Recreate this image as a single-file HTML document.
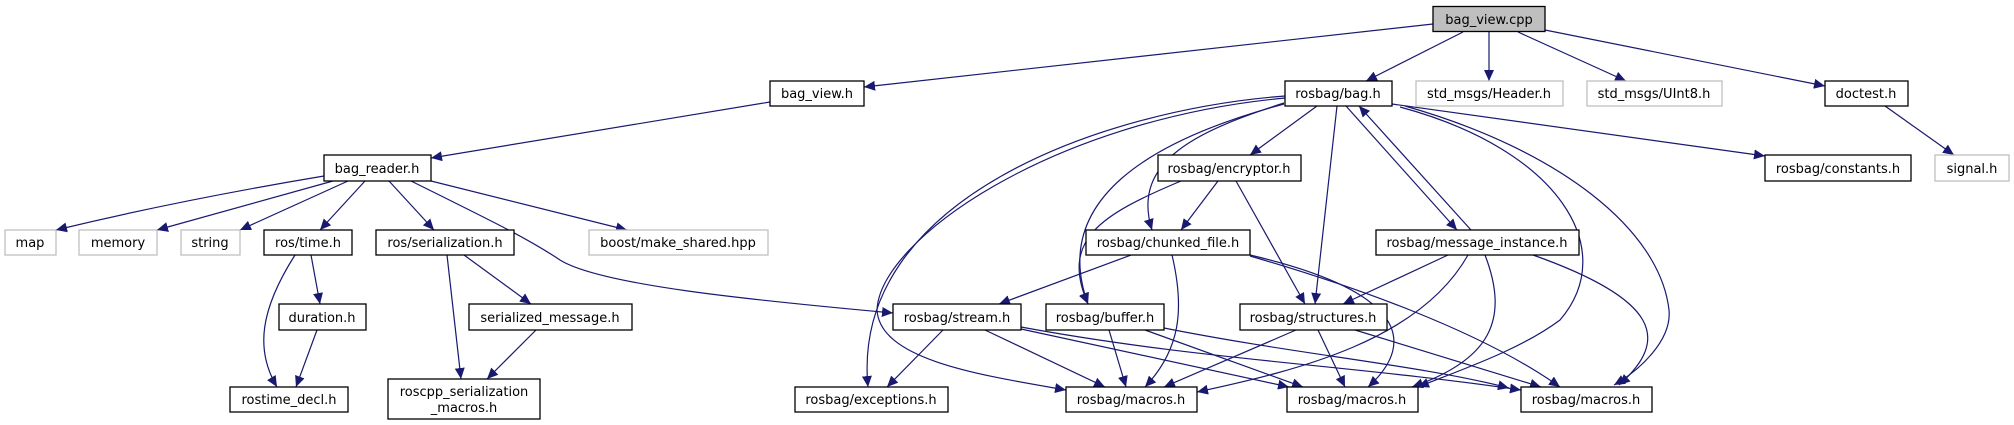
<!DOCTYPE html>
<html><head><meta charset="utf-8"><style>
html,body{margin:0;padding:0;background:#fff;}
svg{display:block;}
text{font-family:"DejaVu Sans","Liberation Sans",sans-serif;font-size:13px;fill:#000;}
</style></head><body>
<svg width="2014" height="425" viewBox="0 0 2014 425" xmlns="http://www.w3.org/2000/svg">
<defs>
<marker id="a" markerUnits="userSpaceOnUse" markerWidth="12" markerHeight="10" refX="11" refY="5" orient="auto">
<path d="M0,0 L11,5 L0,10 Z" fill="#191970"/>
</marker>
</defs>
<g fill="none" stroke="#191970" stroke-width="1.2" marker-end="url(#a)">
<path d="M1433,24 L864,87"/>
<path d="M1463,32 L1366,81"/>
<path d="M1489,32 L1489,81"/>
<path d="M1518,32 L1626,81"/>
<path d="M1545,30 L1825,86"/>
<path d="M1885,106 L1954,155"/>
<path d="M770,102 L431,158"/>
<path d="M324,176 Q180,200 56,230"/>
<path d="M333,181 L157,230"/>
<path d="M348,181 L240,230"/>
<path d="M365,181 L320,230"/>
<path d="M389,181 L434,230"/>
<path d="M411,181 C500,225 530,240 560,260 C600,285 750,300 893,313"/>
<path d="M431,181 L627,230"/>
<path d="M311,255 L320,304"/>
<path d="M295,255 C260,310 255,350 277,387"/>
<path d="M317,330 L296,387"/>
<path d="M464,255 L531,304"/>
<path d="M447,255 L461,379"/>
<path d="M536,330 L487,379"/>
<path d="M1317,106 L1250,155"/>
<path d="M1337,106 L1315,304"/>
<path d="M1284,103 C1200,130 1130,160 1152,230"/>
<path d="M1284,104 C1150,140 1050,200 1088,304"/>
<path d="M1285,96 C1100,110 850,200 868,387"/>
<path d="M1285,98 C1050,120 880,240 877,310 C880,360 980,375 1066,390"/>
<path d="M1392,104 L1765,156"/>
<path d="M1346,106 L1457,230"/>
<path d="M1471,230 L1359,106"/>
<path d="M1400,107 C1560,150 1620,250 1560,320 C1520,350 1460,370 1418,387"/>
<path d="M1405,106 C1560,150 1660,230 1669,310 C1672,340 1640,370 1614,385"/>
<path d="M1218,181 L1181,230"/>
<path d="M1181,181 C1100,215 1060,240 1088,304"/>
<path d="M1236,181 L1305,304"/>
<path d="M1131,255 L999,304"/>
<path d="M1172,255 C1185,310 1180,350 1145,387"/>
<path d="M1250,255 C1400,290 1420,340 1368,387"/>
<path d="M1250,256 C1350,285 1480,330 1560,387"/>
<path d="M1448,255 L1343,304"/>
<path d="M1468,255 C1420,340 1300,370 1197,392"/>
<path d="M1485,255 C1510,320 1490,360 1412,387"/>
<path d="M1533,255 C1660,300 1670,340 1619,385"/>
<path d="M1296,330 L1164,387"/>
<path d="M1318,330 L1345,387"/>
<path d="M1355,330 L1541,387"/>
<path d="M943,330 L887,387"/>
<path d="M985,330 L1105,387"/>
<path d="M1021,329 L1289,387"/>
<path d="M1021,327 C1200,360 1350,365 1521,390"/>
<path d="M1109,330 L1126,387"/>
<path d="M1145,330 L1303,387"/>
<path d="M1164,328 C1300,355 1420,365 1509,388"/>
</g>
<g stroke-width="1.3" text-anchor="middle">
<rect x="1433" y="6.5" width="112" height="25" fill="#bfbfbf" stroke="#000"/><text x="1489" y="24">bag_view.cpp</text>
<rect x="770" y="81" width="94" height="25" fill="#fff" stroke="#000"/><text x="817" y="98">bag_view.h</text>
<rect x="1285" y="81" width="107" height="25" fill="#fff" stroke="#000"/><text x="1338" y="98">rosbag/bag.h</text>
<rect x="1416" y="81" width="147" height="25" fill="#fff" stroke="#bfbfbf"/><text x="1489" y="98">std_msgs/Header.h</text>
<rect x="1587" y="81" width="135" height="25" fill="#fff" stroke="#bfbfbf"/><text x="1654" y="98">std_msgs/UInt8.h</text>
<rect x="1825" y="81" width="83" height="25" fill="#fff" stroke="#000"/><text x="1866" y="98">doctest.h</text>
<rect x="324" y="155" width="107" height="26" fill="#fff" stroke="#000"/><text x="377" y="173">bag_reader.h</text>
<rect x="1158" y="155" width="143" height="26" fill="#fff" stroke="#000"/><text x="1229" y="173">rosbag/encryptor.h</text>
<rect x="1765" y="155" width="146" height="26" fill="#fff" stroke="#000"/><text x="1838" y="173">rosbag/constants.h</text>
<rect x="1935" y="155" width="74" height="26" fill="#fff" stroke="#bfbfbf"/><text x="1972" y="173">signal.h</text>
<rect x="5" y="230" width="51" height="25" fill="#fff" stroke="#bfbfbf"/><text x="30" y="247">map</text>
<rect x="79" y="230" width="78" height="25" fill="#fff" stroke="#bfbfbf"/><text x="118" y="247">memory</text>
<rect x="181" y="230" width="59" height="25" fill="#fff" stroke="#bfbfbf"/><text x="210" y="247">string</text>
<rect x="264" y="230" width="88" height="25" fill="#fff" stroke="#000"/><text x="308" y="247">ros/time.h</text>
<rect x="376" y="230" width="138" height="25" fill="#fff" stroke="#000"/><text x="445" y="247">ros/serialization.h</text>
<rect x="589" y="230" width="179" height="25" fill="#fff" stroke="#bfbfbf"/><text x="678" y="247">boost/make_shared.hpp</text>
<rect x="1086" y="230" width="164" height="25" fill="#fff" stroke="#000"/><text x="1168" y="247">rosbag/chunked_file.h</text>
<rect x="1376" y="230" width="203" height="25" fill="#fff" stroke="#000"/><text x="1477" y="247">rosbag/message_instance.h</text>
<rect x="279" y="304" width="87" height="26" fill="#fff" stroke="#000"/><text x="322" y="322">duration.h</text>
<rect x="469" y="304" width="163" height="26" fill="#fff" stroke="#000"/><text x="550" y="322">serialized_message.h</text>
<rect x="893" y="304" width="128" height="26" fill="#fff" stroke="#000"/><text x="957" y="322">rosbag/stream.h</text>
<rect x="1046" y="304" width="118" height="26" fill="#fff" stroke="#000"/><text x="1105" y="322">rosbag/buffer.h</text>
<rect x="1240" y="304" width="147" height="26" fill="#fff" stroke="#000"/><text x="1313" y="322">rosbag/structures.h</text>
<rect x="230" y="387" width="118" height="25" fill="#fff" stroke="#000"/><text x="289" y="404">rostime_decl.h</text>
<rect x="388" y="379" width="152" height="40" fill="#fff" stroke="#000"/><text x="464" y="396">roscpp_serialization</text><text x="464" y="412">_macros.h</text>
<rect x="795" y="387" width="153" height="25" fill="#fff" stroke="#000"/><text x="871" y="404">rosbag/exceptions.h</text>
<rect x="1066" y="387" width="131" height="25" fill="#fff" stroke="#000"/><text x="1131" y="404">rosbag/macros.h</text>
<rect x="1287" y="387" width="131" height="25" fill="#fff" stroke="#000"/><text x="1352" y="404">rosbag/macros.h</text>
<rect x="1521" y="387" width="131" height="25" fill="#fff" stroke="#000"/><text x="1586" y="404">rosbag/macros.h</text>
</g>
</svg>
</body></html>
